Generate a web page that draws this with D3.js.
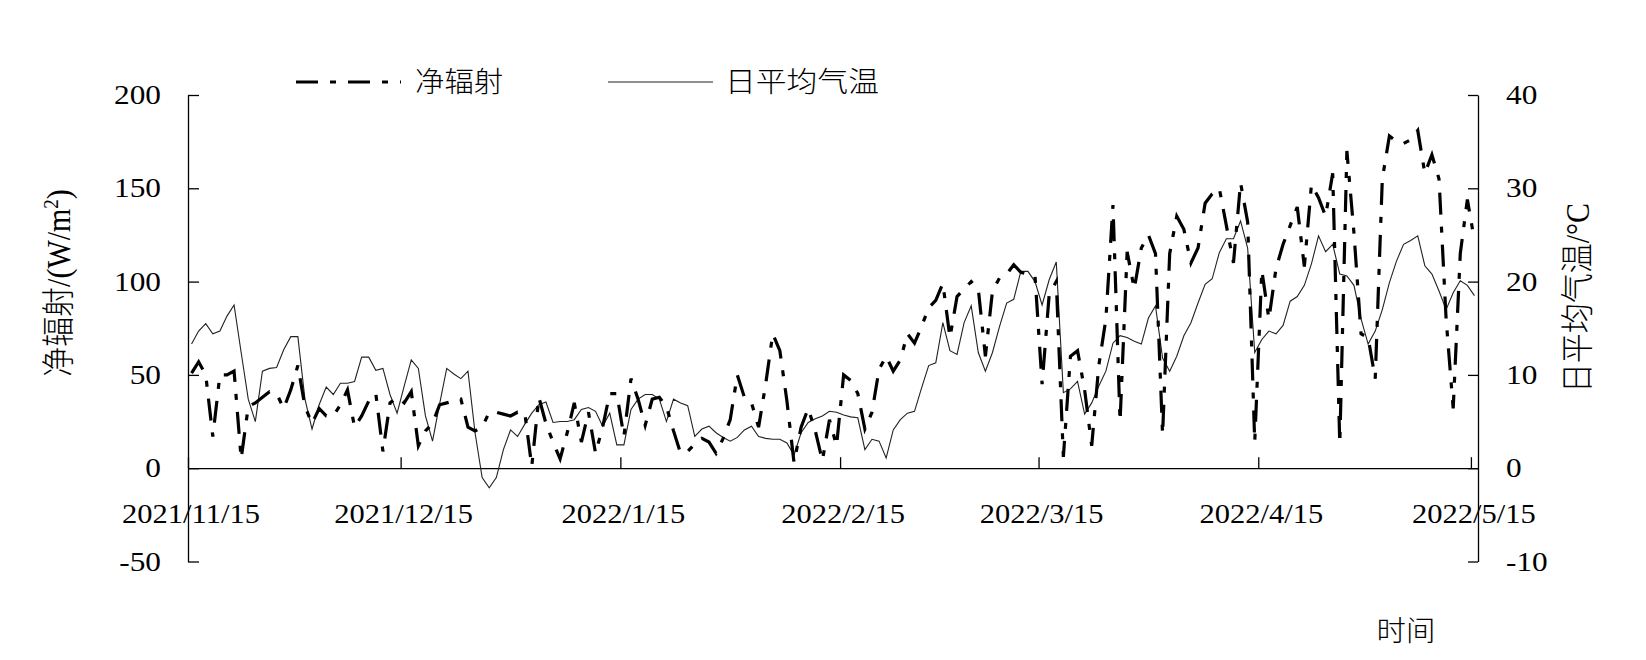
<!DOCTYPE html>
<html><head><meta charset="utf-8">
<script src="https://cdn.jsdelivr.net/npm/d3@7"></script>
<style>
html,body{margin:0;padding:0;background:#fff;}
svg{display:block;}
text{font-family:"Liberation Serif","Noto Sans CJK SC",serif;fill:#000;}
.cjk{font-weight:300;}
</style></head>
<body>
<svg id="chart" width="1646" height="660"></svg>
<script>
// ---------------- data ----------------
const startDay = "2021-11-15";   // first day of the series (one value per day)
const netRadiation = [
 51,57,50,17,50,50,52,5,33,35, 38,41,40,32,42,55,33,24,32,28,
 28,34,42,22,28,36,40,9,35,38, 35,41,12,20,24,34,35,36,37,22,
 20,22,30,30,29,28,30,30,1,38, 24,14,5,19,35,14,30,8,22,40,
 40,17,48,37,23,37,38,33,20,8, 9,13,16,14,8,16,26,50,38,35,
 22,45,72,63,36,3,22,32,20,4, 26,12,50,47,40,21,30,53,60,52,
 58,72,67,76,86,90,99,70,92,96, 100,96,60,95,102,104,109,105,104,103,
 45,93,100,6,60,63,42,12,55,80, 141,25,116,96,118,125,115,18,115,135,
 128,110,118,142,147,150,130,110,153,132, 14,106,80,107,120,130,140,108,152,145,
 135,158,13,170,126,72,70,48,155,178, 175,174,176,181,158,168,155,80,32,115,
 144,122
];
const airTemp = [
 13.3,14.7,15.5,14.4,14.7,16.3,17.5,12.4,7.4,5.0, 10.4,10.7,10.8,12.7,14.1,14.1,7.4,4.2,6.8,8.7,
 7.9,9.1,9.1,9.3,11.9,11.9,10.5,10.7,7.9,5.9, 8.8,11.6,10.7,5.6,2.9,6.9,10.7,10.1,9.6,10.4,
 3.8,-1.0,-2.1,-1.0,2.0,4.1,3.4,4.7,5.9,6.8, 7.1,4.9,5.0,5.0,5.2,6.3,6.5,6.1,4.5,5.9,
 2.5,2.5,6.3,7.4,7.9,7.9,7.4,5.0,7.4,7.0, 6.7,3.4,4.2,4.5,3.8,3.3,2.9,3.3,4.1,4.5,
 3.4,3.2,3.1,3.1,2.7,1.4,3.8,4.9,5.3,5.6, 6.1,6.0,5.7,5.5,5.4,2.0,3.1,2.9,1.1,4.1,
 5.2,5.9,6.1,8.6,11.0,11.3,15.6,12.6,12.2,15.6, 17.4,12.4,10.4,12.4,15.2,17.7,18.1,21.1,21.1,20.0,
 17.5,20.2,22.1,8.1,8.5,9.3,5.8,7.0,8.8,10.4, 13.4,14.2,14.0,13.6,13.3,16.1,17.4,11.8,10.4,12.0,
 14.2,15.6,17.7,19.7,20.3,23.1,24.6,24.6,26.5,23.6, 12.4,13.8,14.7,14.4,15.3,17.9,18.4,19.6,21.9,24.9,
 23.2,24.0,20.8,20.6,19.6,16.0,13.3,14.7,17.0,19.9, 22.2,24.0,24.4,24.9,21.7,20.8,19.0,17.0,18.8,20.1,
 19.6,18.5
];
const xTickDates = ["2021-11-15","2021-12-15","2022-01-15","2022-02-15","2022-03-15","2022-04-15","2022-05-15"];
const xTickLabels = ["2021/11/15","2021/12/15","2022/1/15","2022/2/15","2022/3/15","2022/4/15","2022/5/15"];
const leftTicks = [-50,0,50,100,150,200];
const rightTicks = [-10,0,10,20,30,40];
const seriesNames = ["净辐射","日平均气温"];

// ---------------- layout ----------------
const parse = d3.timeParse("%Y-%m-%d");
const day0 = parse(startDay);
const dates = netRadiation.map((_, i) => d3.timeHour.offset(d3.timeDay.offset(day0, i), 12));
const L = 188, R = 1478, T = 95, B = 561.5;
const SX = 1.16; // horizontal stretch of text seen in reference

const svg = d3.select("#chart");
const x = d3.scaleTime().domain([day0, d3.timeDay.offset(day0, netRadiation.length)]).range([L, R]);
const yL = d3.scaleLinear().domain([-50, 200]).range([B, T]);
const yR = d3.scaleLinear().domain([-10, 40]).range([B, T]);
const y0 = yL(0);

// axes
svg.append("g").attr("transform", `translate(${L},0)`)
  .call(d3.axisRight(yL).tickValues(leftTicks).tickSize(11).tickSizeOuter(0).tickFormat(""));
svg.append("g").attr("transform", `translate(${R},0)`)
  .call(d3.axisLeft(yR).tickValues(rightTicks).tickSize(10).tickSizeOuter(0).tickFormat(""));
svg.append("g").attr("transform", `translate(0,${y0})`)
  .call(d3.axisTop(x).tickValues(xTickDates.map(parse)).tickSize(11).tickSizeOuter(0).tickFormat(""));
svg.selectAll(".domain, .tick line").attr("stroke", "#000").attr("stroke-width", 1.3);

// tick labels
svg.append("g").selectAll("text").data(leftTicks).join("text")
  .attr("transform", d => `translate(161,${yL(d)}) scale(${SX},1)`)
  .attr("text-anchor", "end").attr("dy", "0.34em").attr("font-size", 27).text(d => d);
svg.append("g").selectAll("text").data(rightTicks).join("text")
  .attr("transform", d => `translate(1506,${yR(d)}) scale(${SX},1)`)
  .attr("text-anchor", "start").attr("dy", "0.34em").attr("font-size", 27).text(d => d);
svg.append("g").selectAll("text").data(xTickDates).join("text")
  .attr("transform", d => `translate(${x(parse(d)) + 3},523) scale(1.13,1)`)
  .attr("text-anchor", "middle").attr("font-size", 27).text((d, i) => xTickLabels[i]);

// lines
const lineR = d3.line().x((d, i) => x(dates[i])).y(d => yL(d));
const lineT = d3.line().x((d, i) => x(dates[i])).y(d => yR(d));
svg.append("path").datum(airTemp).attr("d", lineT)
  .attr("fill", "none").attr("stroke", "#222").attr("stroke-width", 1.1);
svg.append("path").datum(netRadiation).attr("d", lineR)
  .attr("fill", "none").attr("stroke", "#000").attr("stroke-width", 3.2)
  .attr("stroke-dasharray", "22,12,6,12");

// legend
svg.append("line").attr("x1", 296).attr("x2", 401).attr("y1", 82).attr("y2", 82)
  .attr("stroke", "#000").attr("stroke-width", 3.2).attr("stroke-dasharray", "22,12,6,12");
svg.append("text").attr("class", "cjk").attr("transform", `translate(415,92) scale(1.05,1)`)
  .attr("font-size", 28).text(seriesNames[0]);
svg.append("line").attr("x1", 608).attr("x2", 713).attr("y1", 82).attr("y2", 82)
  .attr("stroke", "#222").attr("stroke-width", 1.1);
svg.append("text").attr("class", "cjk").attr("transform", `translate(725,92) scale(1.1,1)`)
  .attr("font-size", 28).text(seriesNames[1]);

// axis titles
const tl = svg.append("text").attr("class", "cjk").attr("transform", `translate(70,283) scale(1.1,1) rotate(-90)`)
  .attr("text-anchor", "middle").attr("font-size", 30);
tl.append("tspan").text("净辐射/(W/m");
tl.append("tspan").attr("baseline-shift", "super").attr("font-size", 19).text("2");
tl.append("tspan").text(")");
svg.append("text").attr("class", "cjk").attr("transform", `translate(1589,298) scale(1.1,1) rotate(-90)`)
  .attr("text-anchor", "middle").attr("font-size", 30).text("日平均气温/°C");
svg.append("text").attr("class", "cjk").attr("transform", `translate(1406,641) scale(1.05,1)`)
  .attr("text-anchor", "middle").attr("font-size", 28).text("时间");
</script>
</body></html>
